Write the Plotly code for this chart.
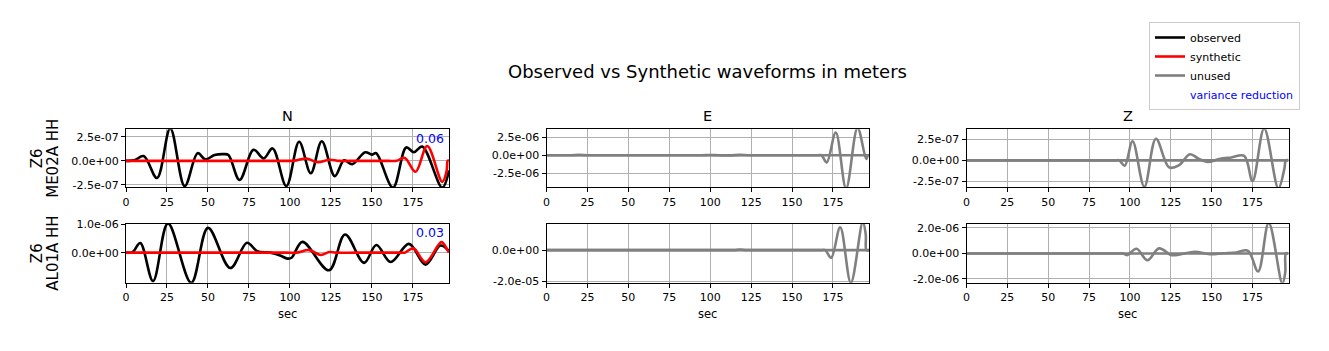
import plotly.graph_objects as go

# ---------------- data (time in s, amplitude in m) ----------------
components = ["N", "E", "Z"]
stations = [["Z6", "ME02A HH"], ["Z6", "AL01A HH"]]
variance_reduction = ["0.06", "0.03"]
x_ticks = [0, 25, 50, 75, 100, 125, 150, 175]

# Row 1 (ME02A) N
n1_obs_t = [0, 5, 10.8, 18.9, 27.0, 35.8, 43.7, 48.4, 54, 59.6, 62.5, 69.3, 77.8, 84, 89.4, 97.8,
            105.6, 112.7, 119.4, 127.3, 133, 138, 145.9, 149.9, 152.6, 162.8, 170.9, 175.6, 180.7,
            192.9, 197]
n1_obs_v = [0, 0.05e-7, 0.5e-7, -1.8e-7, 3.4e-7, -2.65e-7, 0.8e-7, 0.15e-7, 0.6e-7, 0.7e-7, 0.6e-7,
            -2.0e-7, 1.15e-7, 0.25e-7, 1.3e-7, -2.65e-7, 2.0e-7, -1.3e-7, 2.05e-7, -1.6e-7, 0.05e-7,
            -0.35e-7, 0.9e-7, 0.65e-7, 0.8e-7, -2.8e-7, 1.4e-7, 0.9e-7, 1.5e-7, -2.8e-7, -1.0e-7]
n1_syn_t = [0, 25, 50, 75, 98, 101, 104, 110, 117, 124, 130, 140, 150, 160, 165, 170, 176.6, 183.7,
            192.9, 195.6, 196.2, 197]
n1_syn_v = [0, 0, 0, 0, 0, 0, 0.05e-7, 0.25e-7, -0.15e-7, 0.12e-7, 0, 0, 0, 0, 0, 0.3e-7, -1.15e-7,
            1.55e-7, -2.2e-7, -1.0e-7, 0, 0]

# Row 2 (AL01A) N
n2_obs_t = [0, 4, 8.7, 16.5, 25.6, 39.8, 50, 63.6, 73.8, 80, 88, 94, 98.5, 101, 107.6, 123.8,
            133.6, 145.2, 152.7, 161.4, 172.6, 182.7, 191.8, 197]
n2_obs_v = [0, 0.02e-6, 0.34e-6, -1.0e-6, 1.03e-6, -1.06e-6, 0.87e-6, -0.54e-6, 0.35e-6, 0.05e-6,
            0.0, -0.1e-6, -0.21e-6, -0.18e-6, 0.38e-6, -0.62e-6, 0.64e-6, -0.36e-6, 0.27e-6,
            -0.33e-6, 0.31e-6, -0.42e-6, 0.25e-6, 0.05e-6]
n2_syn_t = [0, 25, 50, 75, 98, 104, 111.7, 118.8, 124, 128, 140, 150, 160, 168, 170, 175.3, 182.7,
            192.4, 195.8, 197]
n2_syn_v = [0, 0, 0, 0, 0, 0, 0.09e-6, -0.08e-6, 0.02e-6, 0, 0, 0, 0, 0, 0, 0.15e-6, -0.34e-6,
            0.37e-6, 0.12e-6, 0]

# Row 1 E (unused)
e1_obs_t = [0, 10, 15, 20, 25, 30, 50, 70, 90, 95, 100, 105, 112, 118, 124, 130, 140, 150, 160,
            166, 168, 171.2, 176.7, 183, 190, 195.3, 196.3, 197]
e1_obs_v = [0, 0, 0, 0.05e-6, 0, 0, 0, 0, 0, 0, 0.03e-6, 0, -0.03e-6, 0.06e-6, 0, 0, 0, 0, 0,
            0, 0, -1.0e-6, 3.15e-6, -4.6e-6, 3.8e-6, -0.5e-6, 0, 0]
e1_syn_t = [0, 197]
e1_syn_v = [0, 0]

# Row 2 E (unused)
e2_obs_t = [0, 25, 50, 75, 100, 112, 115, 118, 122, 125, 140, 155, 165, 168, 170.2, 173.9, 179.4,
            185.9, 193.2, 195.0, 195.4, 197]
e2_obs_v = [0, 0, 0, 0, 0, 0, 0, 0.03e-5, 0, 0, 0, 0, 0, 0, 0, -0.49e-5, 1.45e-5, -2.08e-5, 1.8e-5,
            1.0e-5, 0, 0]
e2_syn_t = [0, 197]
e2_syn_v = [0, 0]

# Row 1 Z (unused)
z1_obs_t = [0, 25, 50, 75, 88, 91.5, 93.5, 96.8, 101.6, 108.8, 115.9, 124, 130.1, 136.7, 142, 147.5,
            154.6, 162, 169.9, 175, 182.1, 190.8, 194.5, 195.4, 197]
z1_obs_v = [0, 0, 0, 0, 0, 0, 0, -0.65e-7, 2.3e-7, -3.2e-7, 2.6e-7, -0.86e-7, -0.57e-7, 0.74e-7,
            0.2e-7, -0.2e-7, 0.16e-7, 0.35e-7, 0.53e-7, -2.5e-7, 3.85e-7, -3.4e-7, -1.0e-7, 0, 0]
z1_syn_t = [0, 197]
z1_syn_v = [0, 0]

# Row 2 Z (unused)
z2_obs_t = [0, 25, 50, 75, 90, 94, 95.8, 98.2, 104, 110.7, 117.8, 125.4, 130.5, 139.6, 148.8, 157,
            165, 172.2, 178.4, 184.9, 193.2, 195.0, 195.4, 197]
z2_obs_v = [0, 0, 0, 0, 0, 0, 0, -0.13e-6, 0.37e-6, -0.53e-6, 0.4e-6, -0.13e-6, -0.08e-6, 0.13e-6,
            -0.05e-6, 0.02e-6, 0.08e-6, 0.21e-6, -1.41e-6, 2.4e-6, -2.35e-6, -1.5e-6, 0, 0]
z2_syn_t = [0, 197]
z2_syn_v = [0, 0]

# y-axis ticks per panel (row1 N,E,Z then row2 N,E,Z)
y_tickvals = [[2.5e-7, 0, -2.5e-7], [2.5e-6, 0, -2.5e-6], [2.5e-7, 0, -2.5e-7],
              [1e-6, 0], [0, -2e-5], [2e-6, 0, -2e-6]]
y_ticktext = [["2.5e-07", "0.0e+00", "-2.5e-07"], ["2.5e-06", "0.0e+00", "-2.5e-06"],
              ["2.5e-07", "0.0e+00", "-2.5e-07"], ["1.0e-06", "0.0e+00"],
              ["0.0e+00", "-2.0e-05"], ["2.0e-06", "0.0e+00", "-2.0e-06"]]
y_ranges = [[-2.77e-7, 3.3e-7], [-4.44e-6, 3.6e-6], [-3.26e-7, 3.75e-7],
            [-1.06e-6, 1.025e-6], [-2.09e-5, 1.7e-5], [-2.3e-6, 2.35e-6]]
x_range = [0, 197]

# ---------------- layout geometry (pixels) ----------------
W, H = 1329, 351
col_px = [(126, 449), (546.5, 869), (966.5, 1288.5)]
row_px = [(129.3, 187.3), (223.5, 282.8)]
FONT = "DejaVu Sans"

panels = [
    (n1_obs_t, n1_obs_v, n1_syn_t, n1_syn_v, True),
    (e1_obs_t, e1_obs_v, e1_syn_t, e1_syn_v, False),
    (z1_obs_t, z1_obs_v, z1_syn_t, z1_syn_v, False),
    (n2_obs_t, n2_obs_v, n2_syn_t, n2_syn_v, True),
    (e2_obs_t, e2_obs_v, e2_syn_t, e2_syn_v, False),
    (z2_obs_t, z2_obs_v, z2_syn_t, z2_syn_v, False),
]

fig = go.Figure()
shown = set()
for i, (ot, ov, st, sv, used) in enumerate(panels):
    ax = "" if i == 0 else str(i + 1)
    if used:
        obs_col, syn_col = "black", "red"
        obs_name, syn_name = "observed", "synthetic"
    else:
        obs_col = syn_col = "#808080"
        obs_name = syn_name = "unused"
    fig.add_trace(go.Scatter(x=ot, y=ov, mode="lines", line=dict(color=obs_col, width=2.6, shape="spline"),
                             name=obs_name, showlegend=obs_name not in shown,
                             xaxis="x" + ax, yaxis="y" + ax))
    shown.add(obs_name)
    fig.add_trace(go.Scatter(x=st, y=sv, mode="lines", line=dict(color=syn_col, width=2.6, shape="spline"),
                             name=syn_name, showlegend=syn_name not in shown,
                             xaxis="x" + ax, yaxis="y" + ax))
    shown.add(syn_name)

# legend-only entry
fig.add_trace(go.Scatter(x=[None], y=[None], mode="lines", line=dict(color="rgba(0,0,0,0)", width=0),
                         name='<span style="color:blue">variance reduction</span>', showlegend=True))

# axes
layout = {}
for i in range(6):
    r, c = divmod(i, 3)
    ax = "" if i == 0 else str(i + 1)
    x0, x1 = col_px[c]
    yt, yb = row_px[r]
    common = dict(showline=True, mirror=True, linecolor="black", linewidth=1,
                  ticks="outside", ticklen=4, tickcolor="black", tickwidth=1,
                  showgrid=True, gridcolor="#b0b0b0", gridwidth=0.8, zeroline=False,
                  tickfont=dict(family=FONT, size=11, color="black"), automargin=False)
    layout["xaxis" + ax] = dict(domain=[x0 / W, x1 / W], range=x_range, tickvals=x_ticks,
                                anchor="y" + ax, **common)
    layout["yaxis" + ax] = dict(domain=[1 - yb / H, 1 - yt / H], range=y_ranges[i],
                                tickvals=y_tickvals[i], ticktext=y_ticktext[i],
                                anchor="x" + ax, **common)

annotations = []
# figure title
annotations.append(dict(text="Observed vs Synthetic waveforms in meters", x=707 / W, y=1 - 72 / H,
                        xref="paper", yref="paper", xanchor="center", yanchor="middle", showarrow=False,
                        font=dict(family=FONT, size=18, color="black")))
# component titles
for c, comp in enumerate(components):
    x0, x1 = col_px[c]
    annotations.append(dict(text=comp, x=(x0 + x1) / 2 / W, y=1 - 116 / H, xref="paper", yref="paper",
                            xanchor="center", yanchor="middle", showarrow=False,
                            font=dict(family=FONT, size=14.5, color="black")))
# station labels
for r, lines in enumerate(stations):
    yt, yb = row_px[r]
    for k, (txt, xc) in enumerate(zip(lines, [37, 53.5])):
        annotations.append(dict(text=txt, x=xc / W, y=1 - (yt + yb) / 2 / H, xref="paper", yref="paper",
                                xanchor="center", yanchor="middle", textangle=-90, showarrow=False,
                                font=dict(family=FONT, size=15, color="black")))
# variance reduction
for r, vr in enumerate(variance_reduction):
    ax = "" if r == 0 else str(3 * r + 1)
    annotations.append(dict(text=vr, x=0.99, y=0.85, xref="x" + ax + " domain", yref="y" + ax + " domain",
                            xanchor="right", yanchor="middle", showarrow=False,
                            font=dict(family=FONT, size=12.5, color="blue")))
# x labels
for c in range(3):
    x0, x1 = col_px[c]
    annotations.append(dict(text="sec", x=(x0 + x1) / 2 / W, y=1 - 314 / H, xref="paper", yref="paper",
                            xanchor="center", yanchor="middle", showarrow=False,
                            font=dict(family=FONT, size=11.5, color="black")))

fig.update_layout(
    width=W, height=H, margin=dict(l=0, r=0, t=0, b=0),
    paper_bgcolor="white", plot_bgcolor="white",
    annotations=annotations,
    legend=dict(x=1300 / W, y=1 - 22 / H, xanchor="right", yanchor="top",
                bordercolor="#cccccc", borderwidth=1, bgcolor="white",
                font=dict(family=FONT, size=11, color="black"), itemwidth=30, tracegroupgap=0),
    showlegend=True,
    **layout,
)

fig.write_html("out.html")
